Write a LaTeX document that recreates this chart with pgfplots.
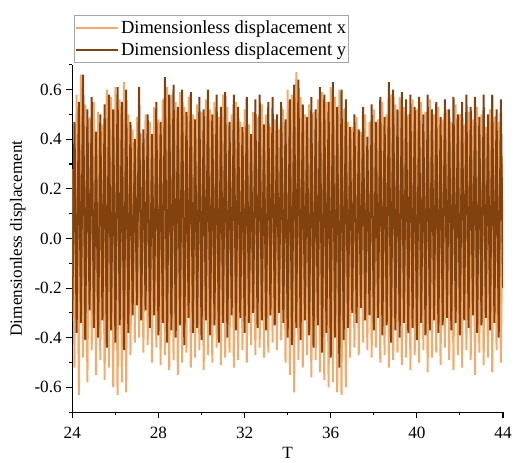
\documentclass[border=0pt]{standalone}
\usepackage{fontspec}
\setmainfont{Liberation Serif}
\usepackage{pgfplots}
\pgfplotsset{compat=1.18}
\usepackage{pgfplotstable}
\definecolor{xcol}{RGB}{244,170,108}
\definecolor{ycol}{RGB}{130,66,16}

\pgfplotstableread{
t x y
24.0 0.28 -0.31
24.1 -0.52 0.47
24.2 0.58 -0.38
24.3 -0.63 0.55
24.4 0.66 -0.34
24.5 -0.48 0.66
24.6 0.54 -0.41
24.7 -0.58 0.52
24.8 0.49 -0.29
24.9 -0.45 0.57
25.0 0.55 -0.36
25.1 -0.55 0.43
25.2 0.51 -0.40
25.3 -0.49 0.50
25.4 0.46 -0.33
25.5 -0.57 0.54
25.6 0.60 -0.44
25.7 -0.52 0.58
25.8 0.57 -0.37
25.9 -0.60 0.52
26.0 0.61 -0.42
26.1 -0.63 0.61
26.2 0.56 -0.35
26.3 -0.58 0.55
26.4 0.63 -0.45
26.5 -0.62 0.60
26.6 0.50 -0.38
26.7 -0.47 0.47
26.8 0.44 -0.31
26.9 -0.42 0.40
27.0 0.49 -0.27
27.1 -0.40 0.61
27.2 0.42 -0.33
27.3 -0.46 0.44
27.4 0.50 -0.29
27.5 -0.43 0.50
27.6 0.47 -0.36
27.7 -0.50 0.42
27.8 0.53 -0.31
27.9 -0.44 0.55
28.0 0.48 -0.39
28.1 -0.51 0.47
28.2 0.56 -0.34
28.3 -0.47 0.65
28.4 0.61 -0.42
28.5 -0.53 0.58
28.6 0.58 -0.37
28.7 -0.49 0.62
28.8 0.55 -0.40
28.9 -0.55 0.53
29.0 0.59 -0.35
29.1 -0.50 0.60
29.2 0.53 -0.43
29.3 -0.46 0.51
29.4 0.57 -0.32
29.5 -0.52 0.59
29.6 0.50 -0.38
29.7 -0.48 0.48
29.8 0.54 -0.36
29.9 -0.45 0.57
30.0 0.51 -0.41
30.1 -0.53 0.52
30.2 0.56 -0.33
30.3 -0.47 0.60
30.4 0.52 -0.39
30.5 -0.50 0.50
30.6 0.55 -0.35
30.7 -0.44 0.58
30.8 0.49 -0.42
30.9 -0.51 0.53
31.0 0.58 -0.34
31.1 -0.48 0.59
31.2 0.53 -0.40
31.3 -0.46 0.47
31.4 0.50 -0.31
31.5 -0.52 0.58
31.6 0.55 -0.37
31.7 -0.49 0.53
31.8 0.47 -0.32
31.9 -0.45 0.45
32.0 0.52 -0.38
32.1 -0.50 0.57
32.2 0.46 -0.34
32.3 -0.43 0.42
32.4 0.51 -0.30
32.5 -0.47 0.56
32.6 0.49 -0.36
32.7 -0.44 0.58
32.8 0.54 -0.33
32.9 -0.48 0.46
33.0 0.50 -0.37
33.1 -0.46 0.55
33.2 0.45 -0.31
33.3 -0.42 0.57
33.4 0.48 -0.35
33.5 -0.45 0.50
33.6 0.44 -0.30
33.7 -0.41 0.55
33.8 0.52 -0.34
33.9 -0.50 0.48
34.0 0.60 -0.40
34.1 -0.55 0.56
34.2 0.58 -0.43
34.3 -0.62 0.62
34.4 0.67 -0.36
34.5 -0.49 0.64
34.6 0.57 -0.41
34.7 -0.52 0.54
34.8 0.50 -0.33
34.9 -0.47 0.49
35.0 0.54 -0.39
35.1 -0.56 0.57
35.2 0.51 -0.44
35.3 -0.49 0.52
35.4 0.56 -0.35
35.5 -0.54 0.61
35.6 0.59 -0.46
35.7 -0.57 0.58
35.8 0.55 -0.38
35.9 -0.60 0.55
36.0 0.61 -0.48
36.1 -0.58 0.63
36.2 0.57 -0.40
36.3 -0.62 0.53
36.4 0.60 -0.52
36.5 -0.63 0.60
36.6 0.52 -0.41
36.7 -0.60 0.56
36.8 0.47 -0.36
36.9 -0.48 0.45
37.0 0.45 -0.30
37.1 -0.44 0.50
37.2 0.49 -0.34
37.3 -0.47 0.44
37.4 0.43 -0.28
37.5 -0.42 0.53
37.6 0.50 -0.33
37.7 -0.45 0.41
37.8 0.47 -0.31
37.9 -0.48 0.54
38.0 0.52 -0.37
38.1 -0.44 0.47
38.2 0.48 -0.32
38.3 -0.50 0.57
38.4 0.55 -0.39
38.5 -0.47 0.49
38.6 0.50 -0.35
38.7 -0.52 0.63
38.8 0.58 -0.42
38.9 -0.49 0.60
39.0 0.54 -0.37
39.1 -0.46 0.52
39.2 0.57 -0.40
39.3 -0.51 0.59
39.4 0.53 -0.34
39.5 -0.48 0.56
39.6 0.50 -0.38
39.7 -0.53 0.58
39.8 0.56 -0.36
39.9 -0.47 0.53
40.0 0.52 -0.41
40.1 -0.50 0.57
40.2 0.55 -0.34
40.3 -0.45 0.50
40.4 0.51 -0.39
40.5 -0.54 0.58
40.6 0.56 -0.37
40.7 -0.48 0.52
40.8 0.50 -0.33
40.9 -0.46 0.55
41.0 0.53 -0.38
41.1 -0.51 0.49
41.2 0.48 -0.35
41.3 -0.44 0.56
41.4 0.52 -0.32
41.5 -0.49 0.52
41.6 0.47 -0.37
41.7 -0.53 0.57
41.8 0.54 -0.34
41.9 -0.47 0.50
42.0 0.50 -0.39
42.1 -0.52 0.55
42.2 0.46 -0.33
42.3 -0.45 0.58
42.4 0.51 -0.36
42.5 -0.49 0.53
42.6 0.48 -0.31
42.7 -0.55 0.57
42.8 0.53 -0.38
42.9 -0.46 0.49
43.0 0.50 -0.35
43.1 -0.51 0.58
43.2 0.45 -0.32
43.3 -0.48 0.50
43.4 0.52 -0.37
43.5 -0.54 0.58
43.6 0.49 -0.34
43.7 -0.45 0.52
43.8 0.47 -0.40
43.9 -0.50 0.56
44.0 0.30 -0.20
}\data

\begin{document}
\begin{tikzpicture}
\path (-54.75pt,-34.5pt) rectangle (332.25pt,312pt);
\begin{axis}[
  scale only axis, width=326pt, height=263pt,
  xmin=24, xmax=44, ymin=-0.7, ymax=0.7,
  axis lines=left, axis line style={-, line width=0.8pt},
  tick align=outside,
  xtick={24,28,...,44}, minor xtick={26,30,...,42},
  ytick={-0.6,-0.4,...,0.61}, minor ytick={-0.7,-0.5,...,0.71},
  major tick length=4.5pt, minor tick length=2.5pt,
  every tick/.style={black, line width=0.8pt},
  /pgf/number format/assume math mode=true,
  yticklabel style={/pgf/number format/fixed, /pgf/number format/fixed zerofill, /pgf/number format/precision=1},
  xticklabel style={yshift=-3.5pt},
  tick label style={font=\fontsize{13}{15}\selectfont},
  label style={font=\fontsize{13}{15}\selectfont},
  xlabel={T}, ylabel={Dimensionless displacement},
  xlabel style={yshift=1pt},
  legend style={at={(0,1)}, anchor=south west, xshift=1.5pt, yshift=1.5pt,
    draw=gray!70, font=\fontsize{14}{16}\selectfont, inner xsep=0.5pt, inner ysep=2pt,
    row sep=1.5pt, nodes={inner xsep=1.5pt}},
  legend cell align=left,
  legend image code/.code={\draw[#1, line width=1.2pt] (-2pt,0pt) -- (30pt,0pt);},
]
\addplot[xcol, line width=1.5pt, line join=miter, miter limit=1] table[x=t, y=x] {\data};
\addlegendentry{Dimensionless displacement x}
\addplot[ycol, line width=1.5pt, line join=miter, miter limit=1] table[x=t, y=y] {\data};
\addlegendentry{Dimensionless displacement y}
\end{axis}
\end{tikzpicture}
\end{document}
